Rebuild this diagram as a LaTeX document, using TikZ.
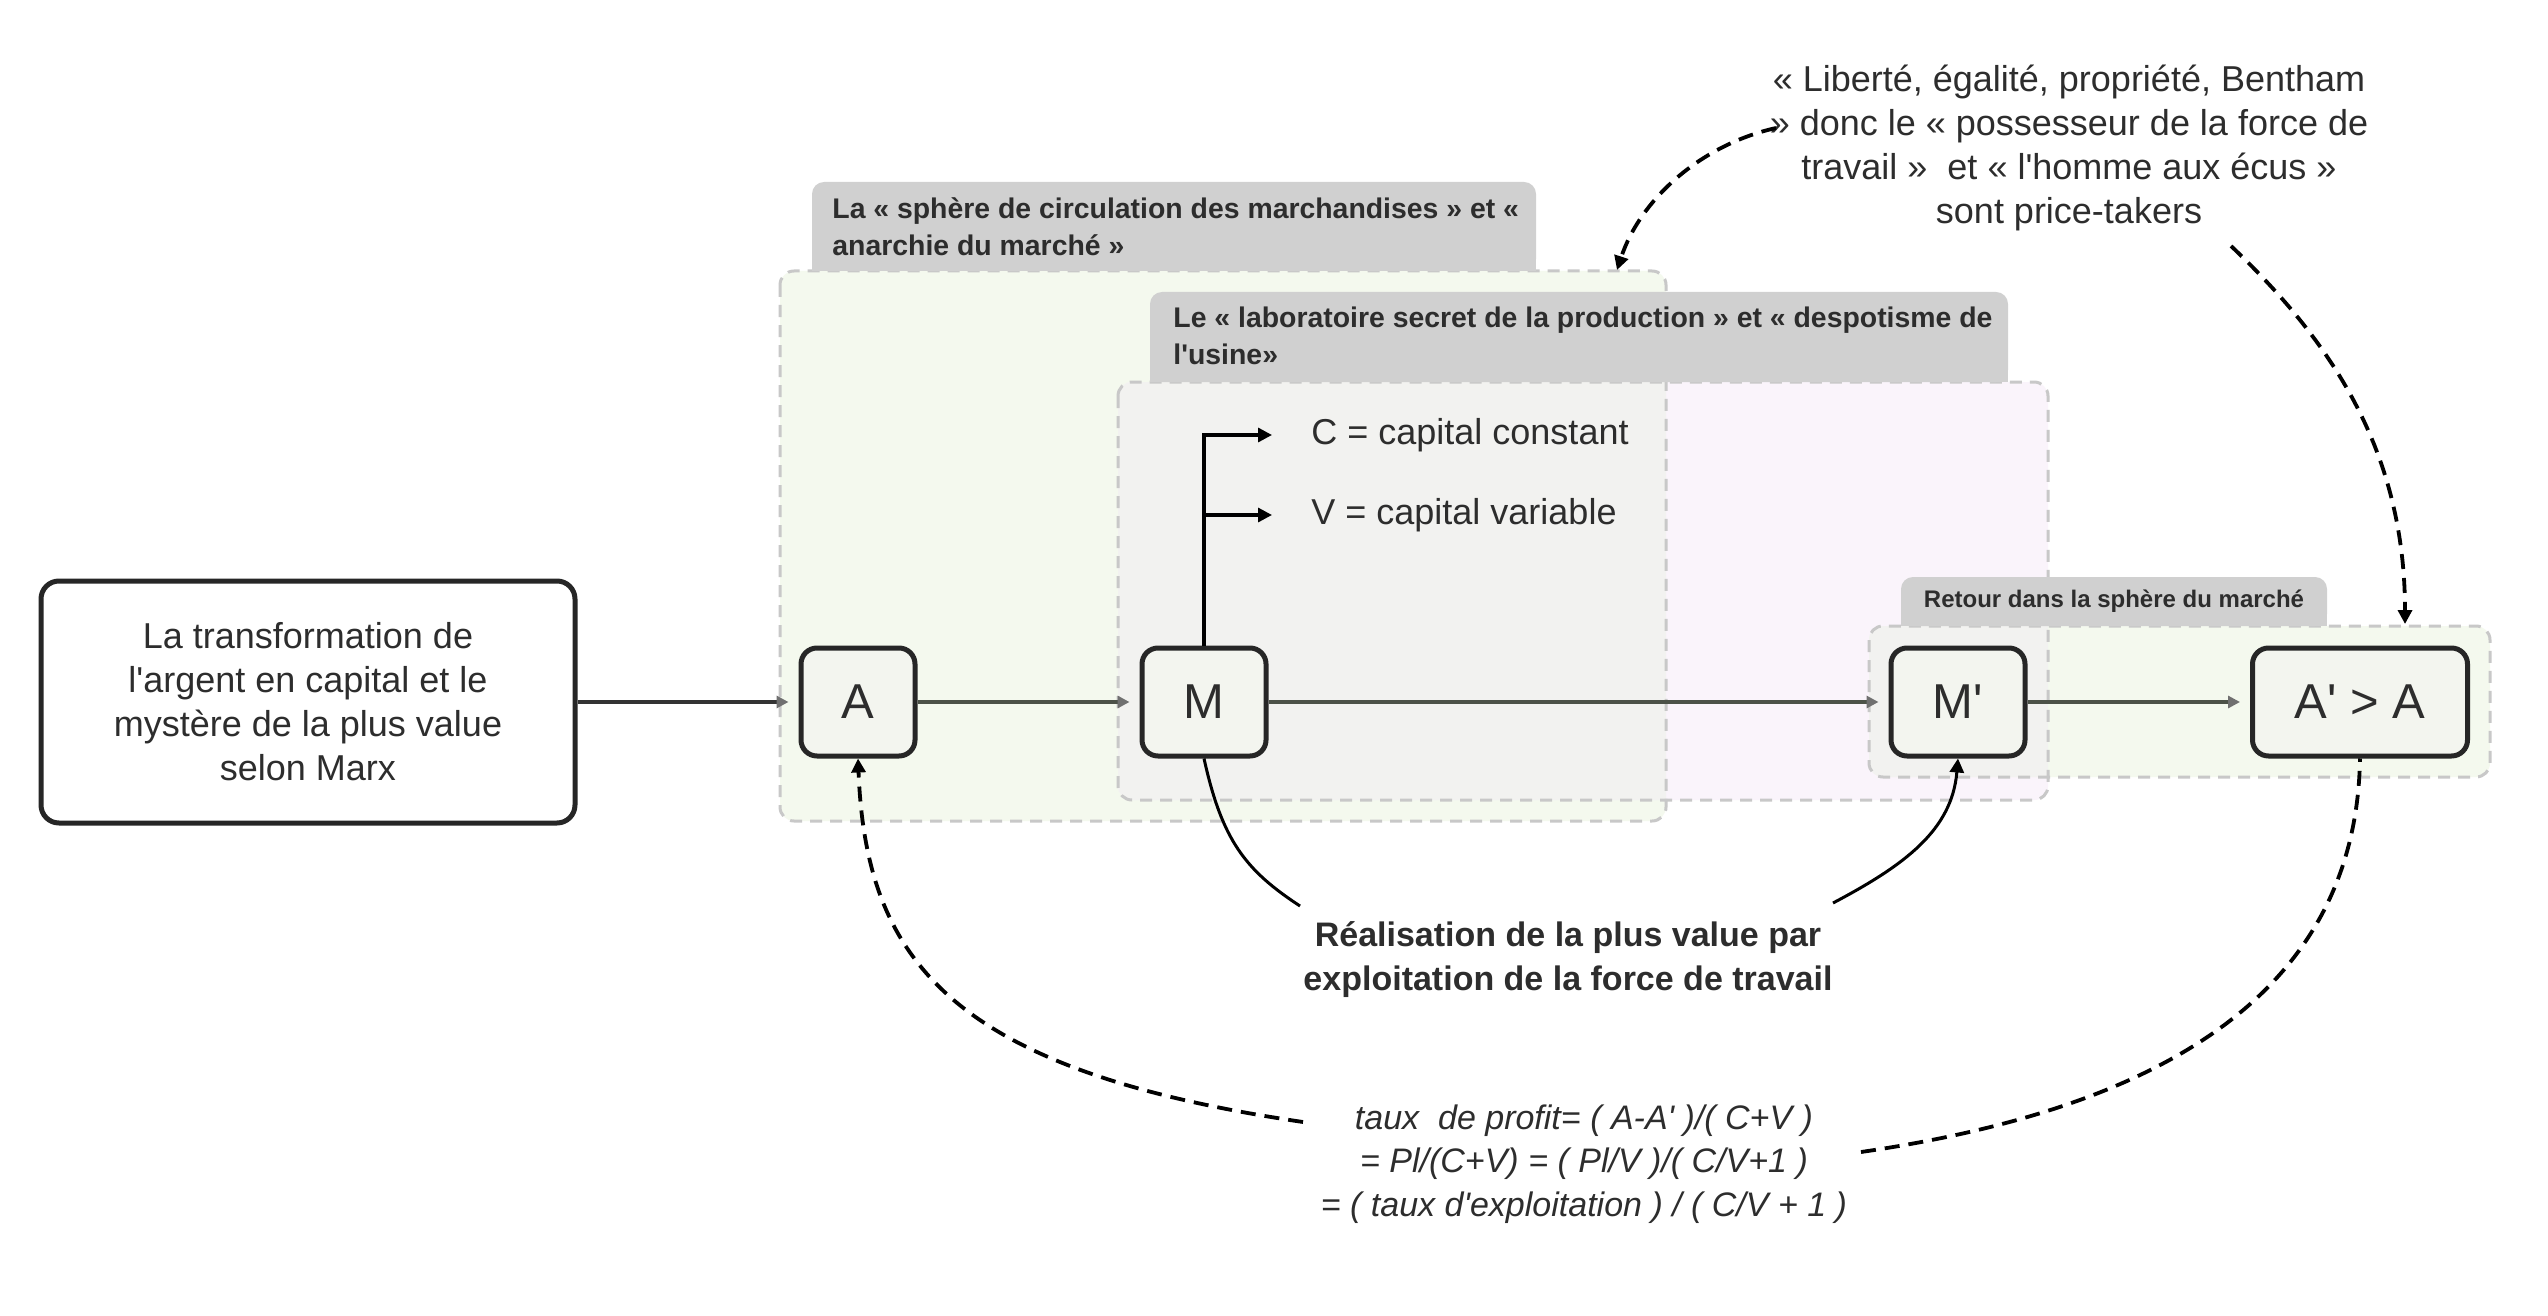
\documentclass[tikz,border=0pt]{standalone}
\usepackage{fontspec}
\newfontfamily\rob{Liberation Sans}
\usetikzlibrary{arrows.meta}
\definecolor{txt}{HTML}{2D2D2D}
\definecolor{gfill}{HTML}{F4F9EE}
\definecolor{lfill}{HTML}{FAF4FB}
\definecolor{ofill}{HTML}{F2F2F0}
\definecolor{tabc}{HTML}{D0D0D0}
\definecolor{dashc}{HTML}{C8C8C8}
\definecolor{boxfill}{HTML}{F3F5EF}
\definecolor{boxc}{HTML}{262626}
\definecolor{flowa}{HTML}{333333}
\definecolor{flowb}{HTML}{4C5248}
\definecolor{headc}{HTML}{707070}
\begin{document}
\begin{tikzpicture}[x=0.5pt,y=-0.5pt,
  every node/.style={font=\rob, text=txt},
  box/.style={draw=boxc, line width=2.5pt, rounded corners=8pt, fill=boxfill,
    font=\rob\fontsize{24.5}{28}\selectfont, minimum height=54pt, inner sep=0pt},
  mainbox/.style={draw=boxc, line width=2.5pt, rounded corners=9pt, fill=white,
    font=\rob\fontsize{18}{22}\selectfont, align=center, minimum width=267pt, minimum height=121pt},
  grp/.style={draw=dashc, line width=1.5pt, dash pattern=on 6pt off 4pt, rounded corners=7pt},
  hdr/.style={font=\rob\bfseries\fontsize{14.2}{18.5}\selectfont, align=left, inner sep=0pt},
  flow/.style={line width=1.6pt, -{Triangle[length=6pt,width=6pt,color=headc]}, shorten >=5pt},
  cv/.style={line width=1.6pt, draw=black, -{Triangle[length=7pt,width=7pt]}},
  body/.style={font=\rob\fontsize{18}{22}\selectfont, inner sep=0pt},
  dashedarrow/.style={line width=1.9pt, draw=black, dash pattern=on 7.5pt off 4.5pt},
  solidcurve/.style={line width=1.5pt, draw=black}
]
\useasboundingbox (0,0) rectangle (2548,1316);
\fill[white] (0,0) rectangle (2548,1316);

% group fills
\fill[gfill, rounded corners=7pt] (780,271) rectangle (1666,821);
\fill[lfill, rounded corners=7pt] (1118,382) rectangle (2048,800);
\begin{scope}
  \clip[rounded corners=7pt] (780,271) rectangle (1666,821);
  \fill[ofill, rounded corners=7pt] (1118,382) rectangle (2048,800);
\end{scope}
\fill[gfill, rounded corners=7pt] (1869,626) rectangle (2490,777);
\begin{scope}
  \clip[rounded corners=7pt] (1118,382) rectangle (2048,800);
  \fill[ofill, rounded corners=7pt] (1869,626) rectangle (2490,777);
\end{scope}

% group borders
\draw[grp] (780,271) rectangle (1666,821);
\draw[grp] (1118,382) rectangle (2048,800);
\draw[grp] (1869,626) rectangle (2490,777);

% tabs
\fill[tabc, rounded corners=6pt] (812,182) rectangle (1536,271);
\fill[tabc] (812,230) rectangle (1536,271);
\fill[tabc, rounded corners=6pt] (1150,292) rectangle (2008,382);
\fill[tabc] (1150,340) rectangle (2008,382);
\fill[tabc, rounded corners=6pt] (1901,577) rectangle (2327,626);
\fill[tabc] (1901,600) rectangle (2327,626);

\node[hdr, anchor=west] (h1) at (832,227) {La « sphère de circulation des marchandises » et «\\anarchie du marché »};
\node[hdr, anchor=west] (h2) at (1173,336) {Le « laboratoire secret de la production » et « despotisme de\\l'usine»};
\node[hdr, font=\rob\bfseries\fontsize{12}{15}\selectfont] (h3) at (2114,601) {Retour dans la sphère du marché};

% nodes
\node[mainbox] (main) at (308,702) {La transformation de\\l'argent en capital et le\\mystère de la plus value\\selon Marx};
\node[box, minimum width=57pt] (A) at (858,702) {A};
\node[box, minimum width=62pt] (M) at (1204,702) {M};
\node[box, minimum width=67pt] (Mp) at (1958,702) {M'};
\node[box, minimum width=107.5pt] (Ap) at (2360,702) {A' > A};

\node[body, anchor=west] (C) at (1311,435) {C = capital constant};
\node[body, anchor=west] (V) at (1311,515) {V = capital variable};

\node[font=\rob\bfseries\fontsize{17}{22}\selectfont, align=center] (R) at (1568,960) {Réalisation de la plus value par\\exploitation de la force de travail};

\node[font=\rob\itshape\fontsize{17}{21.75}\selectfont, align=center] (F) at (1584,1164) {taux\ \ de profit= ( A-A' )/( C+V )\\= Pl/(C+V) = ( Pl/V )/( C/V+1 )\\= ( taux d'exploitation ) / ( C/V + 1 )};

\node[font=\rob\fontsize{18}{22}\selectfont, align=center] (N) at (2069,148) {« Liberté, égalité, propriété, Bentham\\» donc le « possesseur de la force de\\travail »\ \ et « l'homme aux écus »\\sont price-takers};

% flow arrows
\draw[flow, draw=flowa] (main.east) -- (A.west);
\draw[flow, draw=flowb] (A.east) -- (M.west);
\draw[flow, draw=flowb] (M.east) -- (Mp.west);
\draw[flow, draw=flowb] (Mp.east) -- (Ap.west);

% C / V
\draw[cv, shorten >=19.5pt] (M.north) |- (C.west);
\draw[cv, shorten >=19.5pt] (M.north) |- (V.west);

% curves to the realisation text
\coordinate (r1) at (1300,906);
\coordinate (r2) at (1833,903);
\draw[solidcurve] (M.south) .. controls (1222,840) and (1245,870) .. (r1);
\draw[solidcurve, -{Triangle[length=7pt,width=7pt]}] (r2) .. controls (1905,865) and (1952,830) .. (Mp.south);

% dashed curves from the formula
\coordinate (f1) at (1303,1122);
\coordinate (f2) at (1861,1152);
\draw[dashedarrow, -{Triangle[length=7pt,width=7pt]}] (f1) .. controls (950,1070) and (866,960) .. (A.south);
\draw[dashedarrow] (f2) .. controls (2150,1110) and (2356,1000) .. (Ap.south);

% dashed curves from the note
\coordinate (n1) at (1776,128);
\coordinate (n2) at (2231,246);
\coordinate (g1top) at (1617,270);
\coordinate (g3top) at (2405,624);
\draw[dashedarrow, -{Triangle[length=7pt,width=7pt]}] (n1) .. controls (1700,145) and (1640,200) .. (g1top);
\draw[dashedarrow, -{Triangle[length=7pt,width=7pt]}] (n2) .. controls (2330,340) and (2405,450) .. (g3top);
\end{tikzpicture}
\end{document}
